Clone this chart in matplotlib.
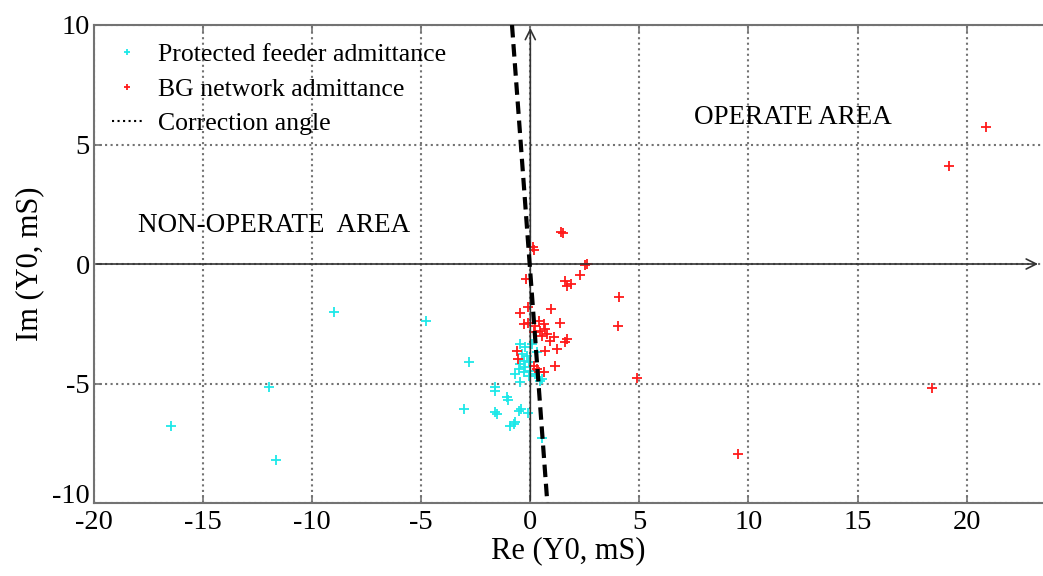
import numpy as np
import matplotlib.pyplot as plt
from matplotlib.lines import Line2D

plt.rcParams['font.family'] = ['Liberation Serif', 'DejaVu Serif']
plt.rcParams['axes.unicode_minus'] = False

# protected feeder admittance (Re, Im) in mS
feeder_re = [-16.48, -11.96, -11.65, -9.02, -4.79, -2.8, -1.64, -1.64, -1.07, -1.04,
             -3.06, -1.6, -1.53, -0.54, -0.43, -0.1, -0.92, -0.76, -0.69, 0.54,
             -0.46, -0.23, -0.38, -0.15, -0.31, -0.08, -0.46, -0.23, -0.54, -0.31,
             0.0, 0.23, -0.08, -0.69, 0.54, 0.31, 0.08, -0.46, 0.46]
feeder_im = [-6.77, -5.16, -8.2, -2.02, -2.37, -4.08, -5.16, -5.3, -5.58, -5.7,
             -6.07, -6.2, -6.28, -6.14, -6.07, -6.25, -6.77, -6.7, -6.62, -7.3,
             -3.35, -3.49, -3.77, -3.84, -4.05, -4.11, -4.18, -4.32, -4.39, -4.53,
             -4.46, -4.6, -4.67, -4.6, -4.81, -3.7, -3.35, -4.95, -4.88]

# background network admittance
bg_re = [1.42, 1.5, 0.1, 0.15, 2.5, 2.6, 2.3, 1.6, 1.87, 1.7, 4.05, 4.0, 4.9,
         -0.2, -0.1, 9.5, 18.4, 19.2, 20.9,
         -0.46, 0.96, -0.12, 1.38, 0.38, 0.61, 0.69, 0.46, 0.77, 0.54, 0.23, 0.15,
         1.07, 0.92, 1.68, 1.6, 1.22, 0.69, -0.61, -0.57, 1.15, 0.15, 0.31, 0.38,
         0.61, -0.31]
bg_im = [1.34, 1.3, 0.7, 0.6, -0.04, 0.0, -0.46, -0.7, -0.84, -0.9, -1.4, -2.6, -4.76,
         -0.63, -1.8, -7.95, -5.19, 4.1, 5.73,
         -2.05, -1.9, -2.48, -2.47, -2.37, -2.51, -2.72, -2.79, -2.93, -3.0, -2.58, -2.86,
         -3.07, -3.21, -3.14, -3.28, -3.56, -3.63, -3.63, -3.97, -4.25, -4.25, -4.39, -4.53,
         -4.53, -2.51]

# correction angle line
corr_re = [-0.84, 0.78]
corr_im = [10, -10]

fig = plt.figure(figsize=(10.43, 5.76), dpi=100)
ax = fig.add_axes([94/1043, 73/576, 949/1043, 478/576])

ax.plot(corr_re, corr_im, color='black', lw=3, ls=(0, (3, 1.6)), zorder=4)
ax.plot(feeder_re, feeder_im, '+', color='#1ee8e8', ms=7, mew=1.3,
        label='Protected feeder admittance', zorder=3)
ax.plot(bg_re, bg_im, '+', color='#ff1a1a', ms=7, mew=1.3,
        label='BG network admittance', zorder=3)

ax.set_xlim(-20, 23.5)
ax.set_ylim(-10, 10)
ax.set_xticks(np.arange(-20, 21, 5))
ax.set_yticks(np.arange(-10, 11, 5))
ax.grid(True, ls=':', color='0.45', lw=1.5)

# axes through the origin with arrows
ax.annotate('', xy=(0, 10), xytext=(0, -10),
            arrowprops=dict(arrowstyle='->', color='0.2', lw=1.2, mutation_scale=18))
ax.annotate('', xy=(23.4, 0), xytext=(-20, 0),
            arrowprops=dict(arrowstyle='->', color='0.2', lw=1.2, mutation_scale=18))

for s in ['left', 'bottom', 'top']:
    ax.spines[s].set_color('0.45')
    ax.spines[s].set_linewidth(1.5)
ax.spines['right'].set_visible(False)
ax.tick_params(direction='in', top=True, length=6, width=1.2, color='0.45',
               labelsize=20.5)
ax.tick_params(axis='x', pad=5)
ax.tick_params(axis='y', pad=3)
ylabs = ax.get_yticklabels()
for t in ylabs:
    t.set_verticalalignment('center_baseline')
ylabs[0].set_verticalalignment('baseline')

ax.set_xlabel('Re (Y0, mS)', fontsize=22, labelpad=1)
ax.set_ylabel('Im (Y0, mS)', fontsize=22, labelpad=6)

ax.text(12.06, 6.15, 'OPERATE AREA', fontsize=19.5, ha='center', va='center')
ax.text(-11.74, 1.63, 'NON-OPERATE  AREA', fontsize=19.5, ha='center', va='center')

handles, labels = ax.get_legend_handles_labels()
handles.append(Line2D([], [], color='black', ls=':', lw=1.5))
labels.append('Correction angle')
ax.legend(handles, labels, loc='upper left', frameon=False, fontsize=18.5,
          markerscale=0.6, handlelength=1.2, handletextpad=0.6,
          borderaxespad=0.3, labelspacing=0.45)

fig.savefig('out.png', dpi=100)
